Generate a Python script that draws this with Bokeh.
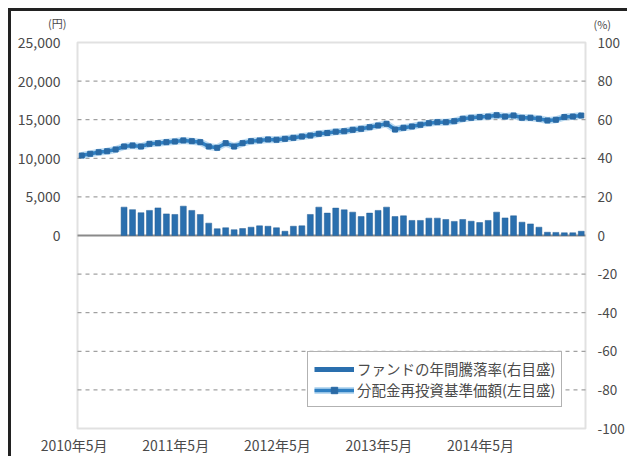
from bokeh.plotting import figure
from bokeh.models import (Range1d, LinearAxis, FixedTicker, NumeralTickFormatter,
                          Label, Legend, LegendItem, BoxAnnotation)
from bokeh.embed import file_html
from bokeh.resources import INLINE

# ---------------- data ----------------
months = list(range(60))  # monthly index, 2010年5月 = 0

nav = [10360, 10580, 10790, 10920, 11140, 11530, 11660, 11530, 11870, 11960,
       12090, 12180, 12310, 12220, 12090, 11530, 11360, 11960, 11530, 11960,
       12220, 12310, 12440, 12400, 12520, 12650, 12820, 12950, 13170, 13280,
       13440, 13510, 13690, 13820, 14030, 14250, 14470, 13730, 13950, 14120,
       14340, 14550, 14680, 14680, 14810, 15120, 15250, 15340, 15410, 15580,
       15410, 15540, 15250, 15250, 15120, 14900, 14990, 15340, 15410, 15540]

bar_months = months[5:]
annual_return = [14.7, 13.4, 11.8, 13.0, 14.3, 11.2, 10.9, 15.2, 13.0, 10.9,
                 6.4, 3.5, 4.0, 3.0, 3.6, 4.3, 5.0, 4.8, 4.0, 2.2,
                 4.8, 5.0, 10.9, 14.7, 11.6, 14.2, 13.3, 12.1, 9.8, 11.6,
                 13.0, 14.7, 9.8, 10.2, 7.8, 7.8, 9.0, 9.0, 8.3, 7.3,
                 8.3, 7.4, 6.7, 7.8, 12.1, 9.1, 10.2, 6.9, 6.0, 4.3,
                 1.7, 1.6, 1.4, 1.4, 2.2]

x_tick_months = [0, 12, 24, 36, 48]
x_tick_labels = ["2010年5月", "2011年5月", "2012年5月", "2013年5月", "2014年5月"]

left_ticks = [0, 5000, 10000, 15000, 20000, 25000]
right_ticks = [-100, -80, -60, -40, -20, 0, 20, 40, 60, 80, 100]
grid_ticks = [-20000, -15000, -10000, -5000, 5000, 10000, 15000, 20000]

legend_labels = ["ファンドの年間騰落率(右目盛)", "分配金再投資基準価額(左目盛)"]

# ---------------- layout (pixels) ----------------
CW, CH = 619, 448            # canvas size (placed at page 11,11)
OX, OY = 11, 11              # canvas origin on the page
BOX_L, BOX_R, BOX_T, BOX_B = 77, 585, 42, 428   # page px of plot box
X0, X1 = -0.5, 59.5          # data x of box edges
Y0, Y1 = -25000, 25000       # data y of box edges
PCT = 100 / 25000            # right-axis units per left-axis unit

ux = (BOX_R - BOX_L) / (X1 - X0)
uy = (BOX_B - BOX_T) / (Y1 - Y0)

def dx(px):
    return X0 + (px - BOX_L) / ux

def dy(py):
    return Y0 + (BOX_B - py) / uy

x_start, x_end = dx(OX), dx(OX + CW)
y_start, y_end = dy(OY + CH), dy(OY)
LAB_SHIFT = 0.9              # the reference's x labels sit ~1 month left

FONT = "Noto Sans CJK JP"
TXT = "#4a4a4a"
BAR = "#2a6fae"
LINE = "#2f80c3"
GRID = "#8a8a8a"

p = figure(width=CW, height=CH, output_backend="svg", toolbar_location=None,
           x_range=Range1d(x_start, x_end), y_range=Range1d(y_start, y_end),
           x_axis_location=None, y_axis_location=None,
           min_border=0, min_border_left=0, min_border_right=0,
           min_border_top=0, min_border_bottom=0,
           styles={"margin-top": "8px", "margin-left": "8px",
                   "border-top": "3px solid #222", "border-left": "3px solid #222"})
p.title.visible = False
p.outline_line_color = None
p.background_fill_color = "white"
p.border_fill_color = "white"
p.grid.visible = False

def style_axis(ax, standoff, size="14px"):
    ax.major_tick_line_color = None
    ax.minor_tick_line_color = None
    ax.axis_line_color = None
    ax.major_label_standoff = standoff
    ax.major_label_text_font = FONT
    ax.major_label_text_font_size = size
    ax.major_label_text_color = TXT

# left axis (yen)
la = LinearAxis(ticker=FixedTicker(ticks=left_ticks),
                formatter=NumeralTickFormatter(format="0,0"), fixed_location=X0)
style_axis(la, 11)
p.add_layout(la, "left")

# right axis (%)
p.extra_y_ranges = {"pct": Range1d(y_start * PCT, y_end * PCT)}
ra = LinearAxis(y_range_name="pct", ticker=FixedTicker(ticks=right_ticks),
                major_label_overrides={t: str(t) for t in right_ticks},
                fixed_location=X1)
style_axis(ra, 6, "13.5px")
p.add_layout(ra, "right")

# bottom axis (month labels)
p.extra_x_ranges = {"lab": Range1d(x_start + LAB_SHIFT, x_end + LAB_SHIFT)}
ba = LinearAxis(x_range_name="lab", ticker=FixedTicker(ticks=x_tick_months),
                major_label_overrides=dict(zip(x_tick_months, x_tick_labels)),
                fixed_location=Y0)
style_axis(ba, 0)
p.add_layout(ba, "below")

# grid lines and zero line inside the plot box
n = len(grid_ticks)
p.segment(x0=[X0] * n, x1=[X1] * n, y0=grid_ticks, y1=grid_ticks,
          line_color=GRID, line_dash="4 4", line_width=1)
p.segment(x0=[X0], x1=[X1], y0=[0], y1=[0], line_color=GRID, line_width=2)

# plot box outline
p.add_layout(BoxAnnotation(left=X0, right=X1, bottom=Y0, top=Y1, fill_alpha=0,
                           line_color="#9a9a9a", line_width=2))

# bars (right axis)
p.vbar(x=bar_months, top=annual_return, bottom=0, width=0.7, y_range_name="pct",
       fill_color=BAR, line_color="#245f96", line_width=0.5)

# NAV line (left axis)
halo = p.line(months, nav, line_color="#8fc3ea", line_width=7, line_alpha=0.6)
ln = p.line(months, nav, line_color=LINE, line_width=3.5)
sq = p.scatter(months, nav, marker="square", size=5, fill_color="#2a6aa5",
               line_color="#2a6aa5")

# legend glyph for the bar series (a thick line, as in the reference)
nan = float("nan")
dummy = p.line(x=[nan, nan], y=[nan, nan], line_color=BAR, line_width=5)

legend = Legend(items=[LegendItem(label=legend_labels[0], renderers=[dummy]),
                       LegendItem(label=legend_labels[1], renderers=[halo, ln, sq])],
                location=(307 - OX, OY + CH - 407))
legend.border_line_color = "#666666"
legend.border_line_width = 1
legend.background_fill_color = "white"
legend.background_fill_alpha = 1
legend.label_text_font = FONT
legend.label_text_font_size = "14.5px"
legend.label_text_color = TXT
legend.glyph_width = 40
legend.glyph_height = 16
legend.label_height = 16
legend.label_standoff = 3
legend.padding = 6
legend.spacing = 0
legend.margin = 0
p.add_layout(legend)

# unit labels
p.add_layout(Label(x=dx(66), y=dy(22), text="(円)", text_align="right",
                   text_baseline="middle", text_font=FONT,
                   text_font_size="11px", text_color=TXT))
p.add_layout(Label(x=dx(593), y=dy(23), text="(%)", text_align="left",
                   text_baseline="middle", text_font=FONT,
                   text_font_size="11px", text_color=TXT))

open("out.html", "w").write(file_html(p, INLINE))
